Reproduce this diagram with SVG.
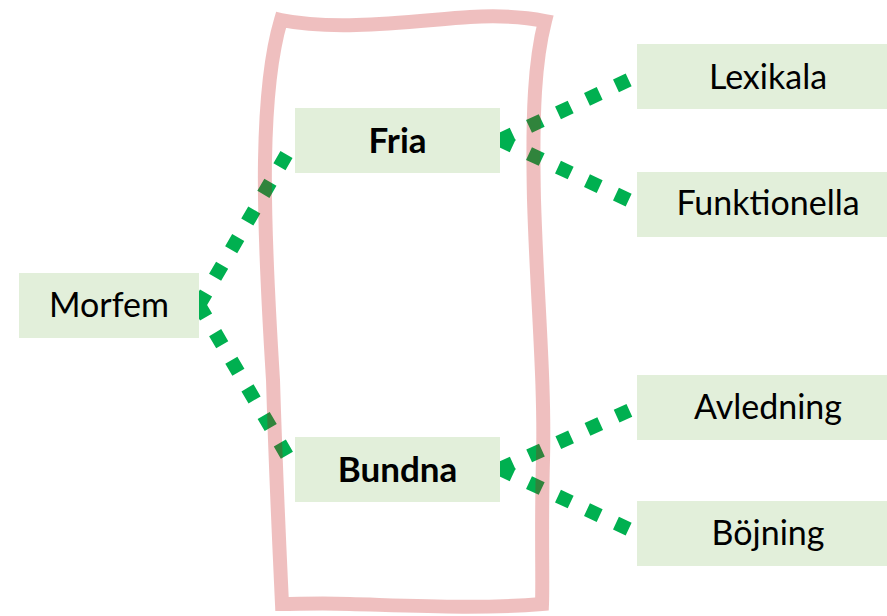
<svg xmlns="http://www.w3.org/2000/svg" width="887" height="616" viewBox="0 0 887 616">
  <style>
    .node rect { fill: #e2efda; }
    .node text { font-family: Lato, "Liberation Sans", sans-serif; font-size: 34px; fill: #000; text-anchor: middle; }
    .node text.b { font-weight: bold; font-size: 35px; }
    .conn line { stroke: #00b050; stroke-width: 14; stroke-dasharray: 14 18; stroke-linecap: butt; fill: none; }
    .frame { fill: none; stroke: #c00000; stroke-opacity: 0.25; stroke-width: 14; stroke-linejoin: miter; }
  </style>
  <rect width="887" height="616" fill="#ffffff"/>
  <g id="connectors" class="conn">
    <line x1="199" y1="305" x2="295" y2="140"/>
    <line x1="199" y1="305" x2="295" y2="469"/>
    <line x1="500" y1="140" x2="637" y2="76"/>
    <line x1="500" y1="140" x2="637" y2="204"/>
    <line x1="500" y1="469" x2="637" y2="407"/>
    <line x1="500" y1="469" x2="637" y2="533"/>
  </g>
  <path id="frame" class="frame" d="M 281,20 C 340,32 420,20 470,17 C 505,15 530,18 545,21 C 535,60 532,110 534,200 C 537,300 545,380 543,460 C 541,530 543,580 542,604 C 480,609 420,606 350,604 C 320,603 300,604 282,604 C 280,560 276,480 273,380 C 268,300 264,220 265,160 C 266,100 272,50 281,20 Z"/>
  <g id="node-morfem" class="node">
    <rect x="19" y="273" width="180" height="65"/>
    <text x="109" y="317">Morfem</text>
  </g>
  <g id="node-fria" class="node">
    <rect x="295" y="108" width="205" height="65"/>
    <text class="b" x="397.5" y="153">Fria</text>
  </g>
  <g id="node-bundna" class="node">
    <rect x="295" y="437" width="205" height="65"/>
    <text class="b" x="397.5" y="482">Bundna</text>
  </g>
  <g id="node-lexikala" class="node">
    <rect x="637" y="44" width="262" height="65"/>
    <text x="768" y="89">Lexikala</text>
  </g>
  <g id="node-funktionella" class="node">
    <rect x="637" y="172" width="262" height="65"/>
    <text x="768" y="215">Funktionella</text>
  </g>
  <g id="node-avledning" class="node">
    <rect x="637" y="375" width="262" height="65"/>
    <text x="768" y="419">Avledning</text>
  </g>
  <g id="node-bojning" class="node">
    <rect x="637" y="501" width="262" height="65"/>
    <text x="768" y="545">Böjning</text>
  </g>
</svg>
